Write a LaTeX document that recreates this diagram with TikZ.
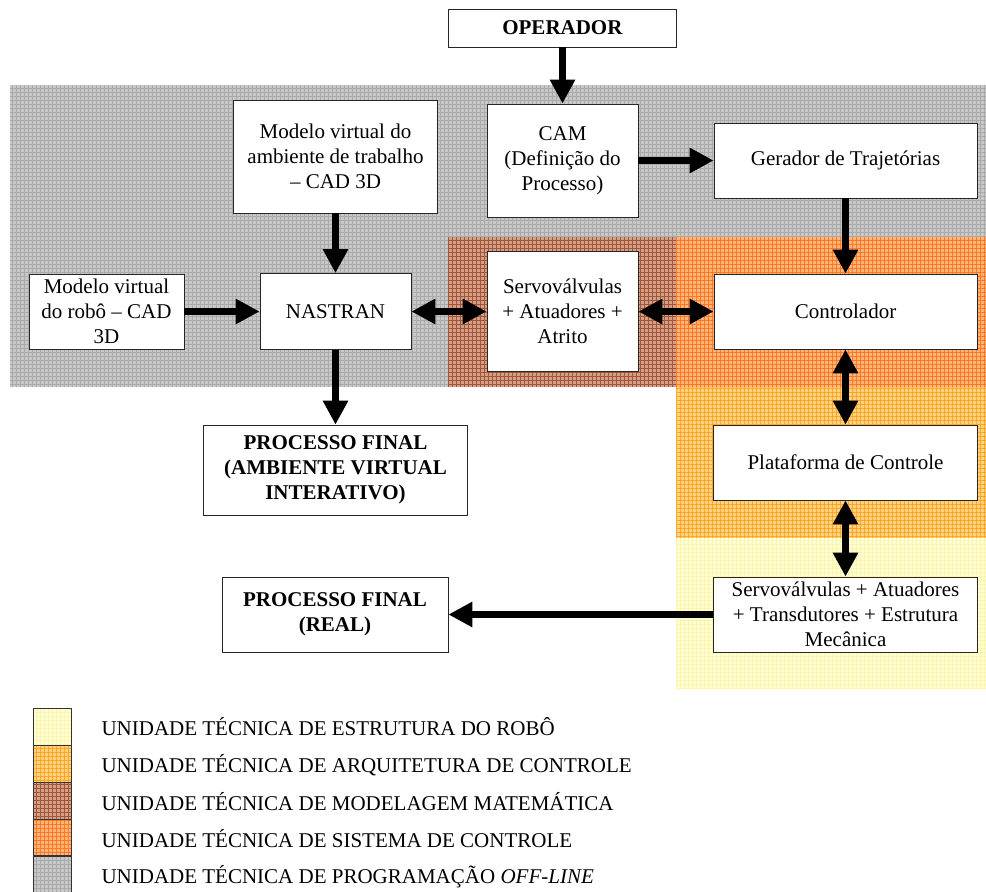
\documentclass[tikz,border=0pt]{standalone}
\usepackage{fontspec}
\setmainfont{Liberation Serif}
\usepackage{tikz}
\usetikzlibrary{arrows.meta}
\definecolor{c8c8c8}{rgb}{0.784,0.784,0.784}
\definecolor{aaaaaa}{rgb}{0.667,0.667,0.667}
\definecolor{d2a087}{rgb}{0.824,0.627,0.529}
\definecolor{a55537}{rgb}{0.647,0.333,0.216}
\definecolor{ffb478}{rgb}{1.,0.706,0.471}
\definecolor{ff7828}{rgb}{1.,0.471,0.157}
\definecolor{ffd282}{rgb}{1.,0.824,0.51}
\definecolor{ffa528}{rgb}{1.,0.647,0.157}
\definecolor{ffffd7}{rgb}{1.,1.,0.843}
\definecolor{fff5aa}{rgb}{1.,0.961,0.667}

\begin{document}
\begin{tikzpicture}[line join=miter,x=1pt,y=-1pt,>={Triangle[length=24pt,width=24pt]},
  font=\fontsize{21pt}{25pt}\selectfont,
  bloco/.style={draw=black!85,line width=0.8pt,fill=white,align=center,inner sep=2pt},
  seta/.style={->,line width=7.5pt},
  dupla/.style={<->,line width=7.5pt},
  grade/.style={line width=0.5pt,step=4pt}]
\useasboundingbox (0,0) rectangle (986,892);
% unidades tecnicas
\fill [c8c8c8] (10,85) rectangle (986,387);
\draw [grade,aaaaaa] (10,387) grid (986,85);
\fill [d2a087] (448,237) rectangle (676,387);
\draw [grade,a55537] (448,387) grid (676,237);
\fill [ffb478] (676,237) rectangle (986,387);
\draw [grade,ff7828] (676,387) grid (986,237);
\fill [ffd282] (676,387) rectangle (986,538);
\draw [grade,ffa528] (676,538) grid (986,387);
\fill [ffffd7] (676,538) rectangle (986,688);
\draw [grade,fff5aa] (676,688) grid (986,538);
% blocos
\node [bloco,minimum width=228,minimum height=38] (oper) at (562.5,28) {\textbf{OPERADOR}};
\node [bloco,minimum width=204,minimum height=113] (ambiente) at (335.5,156.5) {Modelo virtual do\\ambiente de trabalho\\– CAD 3D};
\node [bloco,minimum width=151,minimum height=113] (cam) at (562.5,160.5) {CAM\\(Definição do\\Processo)};
\node [bloco,minimum width=263,minimum height=75] (gerador) at (845.5,160.5) {Gerador de Trajetórias};
\node [bloco,minimum width=155,minimum height=75] (robo) at (106.5,311.5) {Modelo virtual\\do robô – CAD\\3D};
\node [bloco,minimum width=151,minimum height=76] (nastran) at (335.5,311.5) {NASTRAN};
\node [bloco,minimum width=151,minimum height=120] (servo) at (562.5,311.5) {Servoválvulas\\+ Atuadores +\\Atrito};
\node [bloco,minimum width=263,minimum height=75] (ctrl) at (845.5,311.5) {Controlador};
\node [bloco,minimum width=264,minimum height=75] (plat) at (845.5,462.5) {Plataforma de Controle};
\node [bloco,minimum width=264,minimum height=75] (estrut) at (845.5,614.5) {Servoválvulas + Atuadores\\+ Transdutores + Estrutura\\Mecânica};
\node [bloco,minimum width=264,minimum height=90] (pfvirt) at (335.5,470) {\textbf{PROCESSO FINAL}\\\textbf{(AMBIENTE VIRTUAL}\\\textbf{INTERATIVO)}};
\node [bloco,minimum width=226,minimum height=75] (pfreal) at (335,614.5) {\textbf{PROCESSO FINAL}\\\textbf{(REAL)}};
% setas
\draw [seta] (oper) -- (cam);
\draw [seta] (ambiente) -- (nastran);
\draw [seta] (cam) -- (gerador);
\draw [seta] (gerador) -- (ctrl);
\draw [seta] (robo) -- (nastran);
\draw [dupla] (nastran) -- (servo);
\draw [dupla] (servo) -- (ctrl);
\draw [dupla] (ctrl) -- (plat);
\draw [dupla] (plat) -- (estrut);
\draw [seta] (nastran) -- (pfvirt);
\draw [seta] (estrut) -- (pfreal);
% legenda
\fill [ffffd7] (33,708) rectangle (71,745);
\draw [grade,fff5aa] (33,745) grid (71,708);
\fill [ffd282] (33,745) rectangle (71,782);
\draw [grade,ffa528] (33,782) grid (71,745);
\fill [d2a087] (33,782) rectangle (71,819);
\draw [grade,a55537] (33,819) grid (71,782);
\fill [ffb478] (33,819) rectangle (71,855);
\draw [grade,ff7828] (33,855) grid (71,819);
\fill [c8c8c8] (33,855) rectangle (71,892);
\draw [grade,aaaaaa] (33,892) grid (71,855);
\foreach \y in {708,745,782,819,855} \draw [black!80,line width=0.6pt] (33,\y) rectangle (71,\y+37);
\node [anchor=west] (leg1) at (98,727) {UNIDADE TÉCNICA DE ESTRUTURA DO ROBÔ};
\node [anchor=west] (leg2) at (98,765) {UNIDADE TÉCNICA DE ARQUITETURA DE CONTROLE};
\node [anchor=west] (leg3) at (98,802) {UNIDADE TÉCNICA DE MODELAGEM MATEMÁTICA};
\node [anchor=west] (leg4) at (98,839) {UNIDADE TÉCNICA DE SISTEMA DE CONTROLE};
\node [anchor=west] (leg5) at (98,877) {UNIDADE TÉCNICA DE PROGRAMAÇÃO \textit{OFF-LINE}};
\end{tikzpicture}
\end{document}
